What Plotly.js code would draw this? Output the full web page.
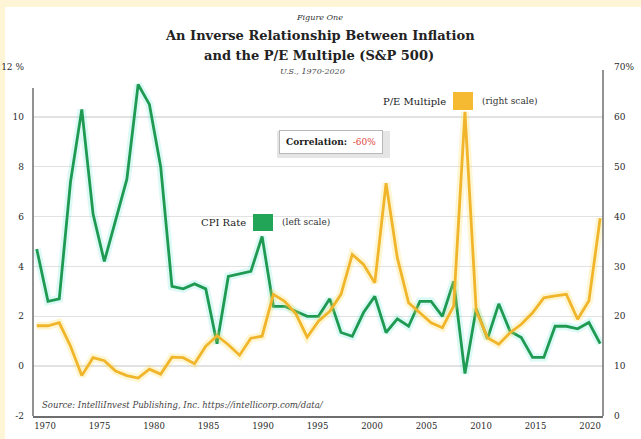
<!DOCTYPE html>
<html>
<head>
<meta charset="utf-8">
<script src="https://cdn.plot.ly/plotly-3.0.1.min.js"></script>
<style>
  html, body { margin: 0; padding: 0; background: #fdf5d6; }
  #chart { width: 641px; height: 439px; }
</style>
</head>
<body>
<div id="chart"></div>
<script>
// ---- data ----
const years = [1970,1971,1972,1973,1974,1975,1976,1977,1978,1979,
               1980,1981,1982,1983,1984,1985,1986,1987,1988,1989,
               1990,1991,1992,1993,1994,1995,1996,1997,1998,1999,
               2000,2001,2002,2003,2004,2005,2006,2007,2008,2009,
               2010,2011,2012,2013,2014,2015,2016,2017,2018,2019,2020];
const cpiRate = [4.7,2.6,2.7,7.4,10.3,6.1,4.2,5.9,7.5,11.3,
                 10.5,8.0,3.2,3.1,3.3,3.1,0.9,3.6,3.7,3.8,
                 5.2,2.4,2.4,2.2,2.0,2.0,2.7,1.35,1.2,2.15,
                 2.8,1.35,1.9,1.6,2.6,2.6,2.0,3.4,-0.3,2.3,
                 1.1,2.5,1.4,1.15,0.35,0.35,1.6,1.6,1.5,1.75,0.9];
const peMultiple = [18.1,18.1,18.7,14.0,8.1,11.7,11.1,9.0,8.1,7.6,
                    9.4,8.4,11.8,11.7,10.5,14.0,16.1,14.3,12.2,15.6,
                    16.0,24.4,23.0,20.5,15.8,19.0,21.0,24.4,32.4,30.4,
                    26.7,46.7,31.7,22.7,20.7,18.7,17.7,22.1,61.0,21.1,
                    15.7,14.4,16.7,18.4,20.7,23.7,24.1,24.4,19.4,23.1,39.7];
const xTickVals = [1970,1975,1980,1985,1990,1995,2000,2005,2010,2015,2020];
const leftTickVals = [-2,0,2,4,6,8,10,12];
const leftTickText = ['-2','0','2','4','6','8','10','12 %'];
const rightTickVals = [0,10,20,30,40,50,60,70];
const rightTickText = ['0','10','20','30','40','50','60','70%'];
const gridVals = [0,2,4,6,8,10];
const correlation = '-60%';

// ---- styles ----
const GREEN = '#1f9a52';
const GOLD = '#f1b52c';
const SERIF = '"DejaVu Serif", "Liberation Serif", serif';
const AXIS = '#6e6e6e';

const traces = [
  { x: years, y: peMultiple, yaxis: 'y2', type: 'scatter', mode: 'lines',
    line: { color: 'rgba(250,220,80,0.25)', width: 8 }, hoverinfo: 'skip', showlegend: false },
  { x: years, y: peMultiple, yaxis: 'y2', type: 'scatter', mode: 'lines', name: 'P/E Multiple',
    line: { color: GOLD, width: 2.8 }, showlegend: false },
  { x: years, y: cpiRate, type: 'scatter', mode: 'lines',
    line: { color: 'rgba(60,220,200,0.18)', width: 8 }, hoverinfo: 'skip', showlegend: false },
  { x: years, y: cpiRate, type: 'scatter', mode: 'lines', name: 'CPI Rate',
    line: { color: GREEN, width: 2.8 }, showlegend: false },
  // carrier for the label axis (invisible)
  { x: xTickVals, y: xTickVals.map(() => null), xaxis: 'x2', type: 'scatter', mode: 'lines',
    hoverinfo: 'skip', showlegend: false }
];

const px = v => (v - 33) / 570;          // pixel -> paper x
const py = v => (416 - v) / 349;         // pixel -> paper y

function note(text, x, y, xanchor, font, extra) {
  return Object.assign({ text: text, xref: 'paper', yref: 'paper', x: px(x), y: py(y),
    xanchor: xanchor, yanchor: 'middle', showarrow: false, font: font }, extra || {});
}

const layout = {
  width: 641, height: 439,
  margin: { l: 33, r: 38, t: 67, b: 23, pad: 0 },
  paper_bgcolor: '#fdf5d6',
  plot_bgcolor: 'rgba(0,0,0,0)',
  showlegend: false,
  font: { family: SERIF, color: '#333', size: 9 },
  xaxis: {
    range: [1969.67, 2020.25], showgrid: false, zeroline: false,
    showline: true, linecolor: AXIS, linewidth: 1.5,
    showticklabels: false, ticks: ''
  },
  xaxis2: {
    overlaying: 'x', anchor: 'y', side: 'bottom',
    range: [1968.90, 2021.19], showgrid: false, zeroline: false, showline: false,
    tickmode: 'array', tickvals: xTickVals, ticks: '', ticklabelstandoff: 3,
    tickfont: { family: SERIF, size: 8.5, color: '#2a2a2a' }
  },
  yaxis: {
    range: [-2, 12], zeroline: false, showline: false, showgrid: false,
    tickmode: 'array', tickvals: leftTickVals, ticktext: leftTickText,
    ticks: '', ticklabelstandoff: 8,
    tickfont: { family: SERIF, size: 9, color: '#2a2a2a' },
    minor: { tickmode: 'array', tickvals: gridVals, showgrid: true,
             gridcolor: '#e2e2e2', gridwidth: 1.5, ticks: '' }
  },
  yaxis2: {
    range: [0, 70], overlaying: 'y', side: 'right', anchor: 'x',
    zeroline: false, showline: false, showgrid: false,
    tickmode: 'array', tickvals: rightTickVals, ticktext: rightTickText,
    ticks: '', ticklabelstandoff: 10,
    tickfont: { family: SERIF, size: 9, color: '#2a2a2a' }
  },
  shapes: [
    { type: 'rect', xref: 'paper', yref: 'paper', layer: 'below',
      x0: px(5), x1: px(650), y0: py(450), y1: py(7),
      fillcolor: '#ffffff', line: { width: 0 } },
    { type: 'line', xref: 'paper', yref: 'paper', x0: 0, x1: 0, y0: 0, y1: py(88),
      line: { color: AXIS, width: 1.5 } },
    { type: 'line', xref: 'paper', yref: 'paper', x0: 1, x1: 1, y0: 0, y1: py(70),
      line: { color: AXIS, width: 1.5 } },
    { type: 'rect', xref: 'paper', yref: 'paper', x0: px(453), x1: px(473), y0: py(110), y1: py(92),
      fillcolor: '#f5b932', line: { width: 0 } },
    { type: 'rect', xref: 'paper', yref: 'paper', x0: px(253), x1: px(273), y0: py(231), y1: py(214),
      fillcolor: '#22a557', line: { width: 0 } },
    { type: 'rect', xref: 'paper', yref: 'paper', x0: px(277), x1: px(390), y0: py(158), y1: py(131),
      fillcolor: 'rgba(0,0,0,0.10)', line: { width: 0 } }
  ],
  annotations: [
    note('<i>Figure One</i>', 319, 17, 'center', { family: SERIF, size: 8, color: '#333' }),
    note('<b>An Inverse Relationship Between Inflation</b>', 320, 36, 'center',
         { family: SERIF, size: 13, color: '#222' }),
    note('<b>and the P/E Multiple (S&amp;P 500)</b>', 319, 55, 'center',
         { family: SERIF, size: 13, color: '#222' }),
    note('<i>U.S., 1970-2020</i>', 312, 72, 'center', { family: SERIF, size: 8, color: '#444' }),
    note('P/E Multiple', 448, 101, 'right', { family: SERIF, size: 10, color: '#222' }),
    note('(right scale)', 480, 101, 'left', { family: SERIF, size: 9, color: '#333' }),
    note('CPI Rate', 248, 222, 'right', { family: SERIF, size: 10, color: '#222' }),
    note('(left scale)', 280, 222, 'left', { family: SERIF, size: 9, color: '#333' }),
    note('<b>Correlation:</b>  <span style="color:#e0453a">' + correlation + '</span>',
         331, 142, 'center', { family: SERIF, size: 9, color: '#222' },
         { bgcolor: '#ffffff', bordercolor: '#b8b8b8', borderwidth: 1, borderpad: 6 }),
    note('<i>Source: IntelliInvest Publishing, Inc. https://intellicorp.com/data/</i>',
         40, 405, 'left', { family: SERIF, size: 8.5, color: '#444' })
  ]
};

Plotly.newPlot('chart', traces, layout, { displayModeBar: false, staticPlot: true });
</script>
</body>
</html>
